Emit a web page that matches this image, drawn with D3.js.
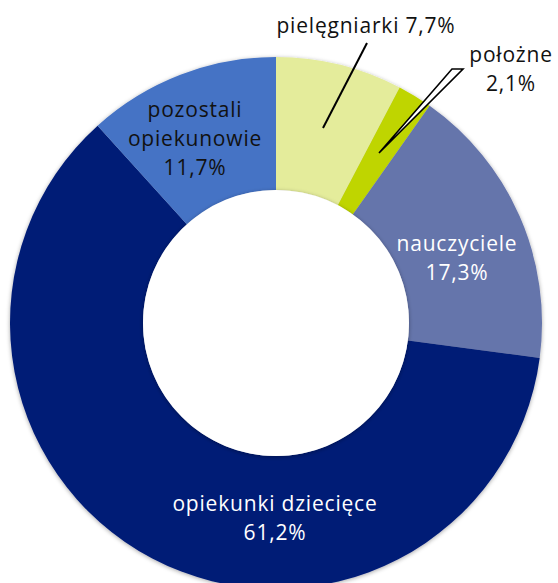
<!DOCTYPE html>
<html>
<head>
<meta charset="utf-8">
<script src="https://cdn.jsdelivr.net/npm/d3@7"></script>
<style>
  body { margin: 0; background: #fff; }
  svg { display: block; }
</style>
</head>
<body>
<script>
// dane
let categories = ["pielęgniarki", "położne", "nauczyciele", "opiekunki dziecięce", "pozostali opiekunowie"];
let values = [7.7, 2.1, 17.3, 61.2, 11.7];
let colors = ["#e4ec9b", "#bfd500", "#6574ab", "#001c76", "#4573c5"];

let width = 558;
let height = 583;
let cx = 276, cy = 323;
let outerR = 266, innerR = 133;

let svg = d3.select("body").append("svg").attr("width", width).attr("height", height);

let defs = svg.append("defs");
let f = defs.append("filter").attr("id", "shadow")
	.attr("x", "-10%").attr("y", "-10%").attr("width", "120%").attr("height", "120%");
f.append("feDropShadow").attr("dx", 0).attr("dy", 1).attr("stdDeviation", 2)
	.attr("flood-color", "#000").attr("flood-opacity", 0.35);

let pie = d3.pie().sort(null).value(d => d.value);
let arc = d3.arc().innerRadius(innerR).outerRadius(outerR);

let data = categories.map((c, i) => ({name: c, value: values[i], color: colors[i]}));

let g = svg.append("g").attr("transform", `translate(${cx},${cy})`);

g.append("g").attr("filter", "url(#shadow)")
	.selectAll("path")
	.data(pie(data))
	.enter()
	.append("path")
	.attr("d", arc)
	.attr("fill", d => d.data.color);

// inner hole shadow
g.append("circle").attr("r", innerR).attr("fill", "#fff").attr("filter", "url(#shadow)");

let fmt = v => d3.format(".1f")(v).replace(".", ",") + "%";
let font = "'Open Sans', sans-serif";

function label(x, y, lines, fill) {
	let t = svg.append("text")
		.attr("x", x).attr("y", y)
		.attr("text-anchor", "middle")
		.attr("font-family", font)
		.attr("font-size", 21)
		.attr("letter-spacing", 0.8)
		.attr("fill", fill);
	lines.forEach((l, i) => {
		t.append("tspan").attr("x", x).attr("dy", i === 0 ? 0 : 29).text(l);
	});
}

// pielęgniarki
svg.append("line")
	.attr("x1", 367).attr("y1", 43).attr("x2", 323).attr("y2", 128)
	.attr("stroke", "#000").attr("stroke-width", 2);
label(366, 33, [categories[0] + " " + fmt(values[0])], "#111");

// położne
svg.append("polygon")
	.attr("points", "452,69 463,69 379,153")
	.attr("fill", "#fff").attr("stroke", "#000").attr("stroke-width", 1.6)
	.attr("stroke-linejoin", "miter");
label(511, 62, [categories[1], fmt(values[1])], "#111");

// nauczyciele
label(457, 251, [categories[2], fmt(values[2])], "#fff");

// opiekunki dziecięce
label(275, 511, [categories[3], fmt(values[3])], "#fff");

// pozostali opiekunowie
label(195, 117, ["pozostali", "opiekunowie", fmt(values[4])], "#111");
</script>
</body>
</html>
